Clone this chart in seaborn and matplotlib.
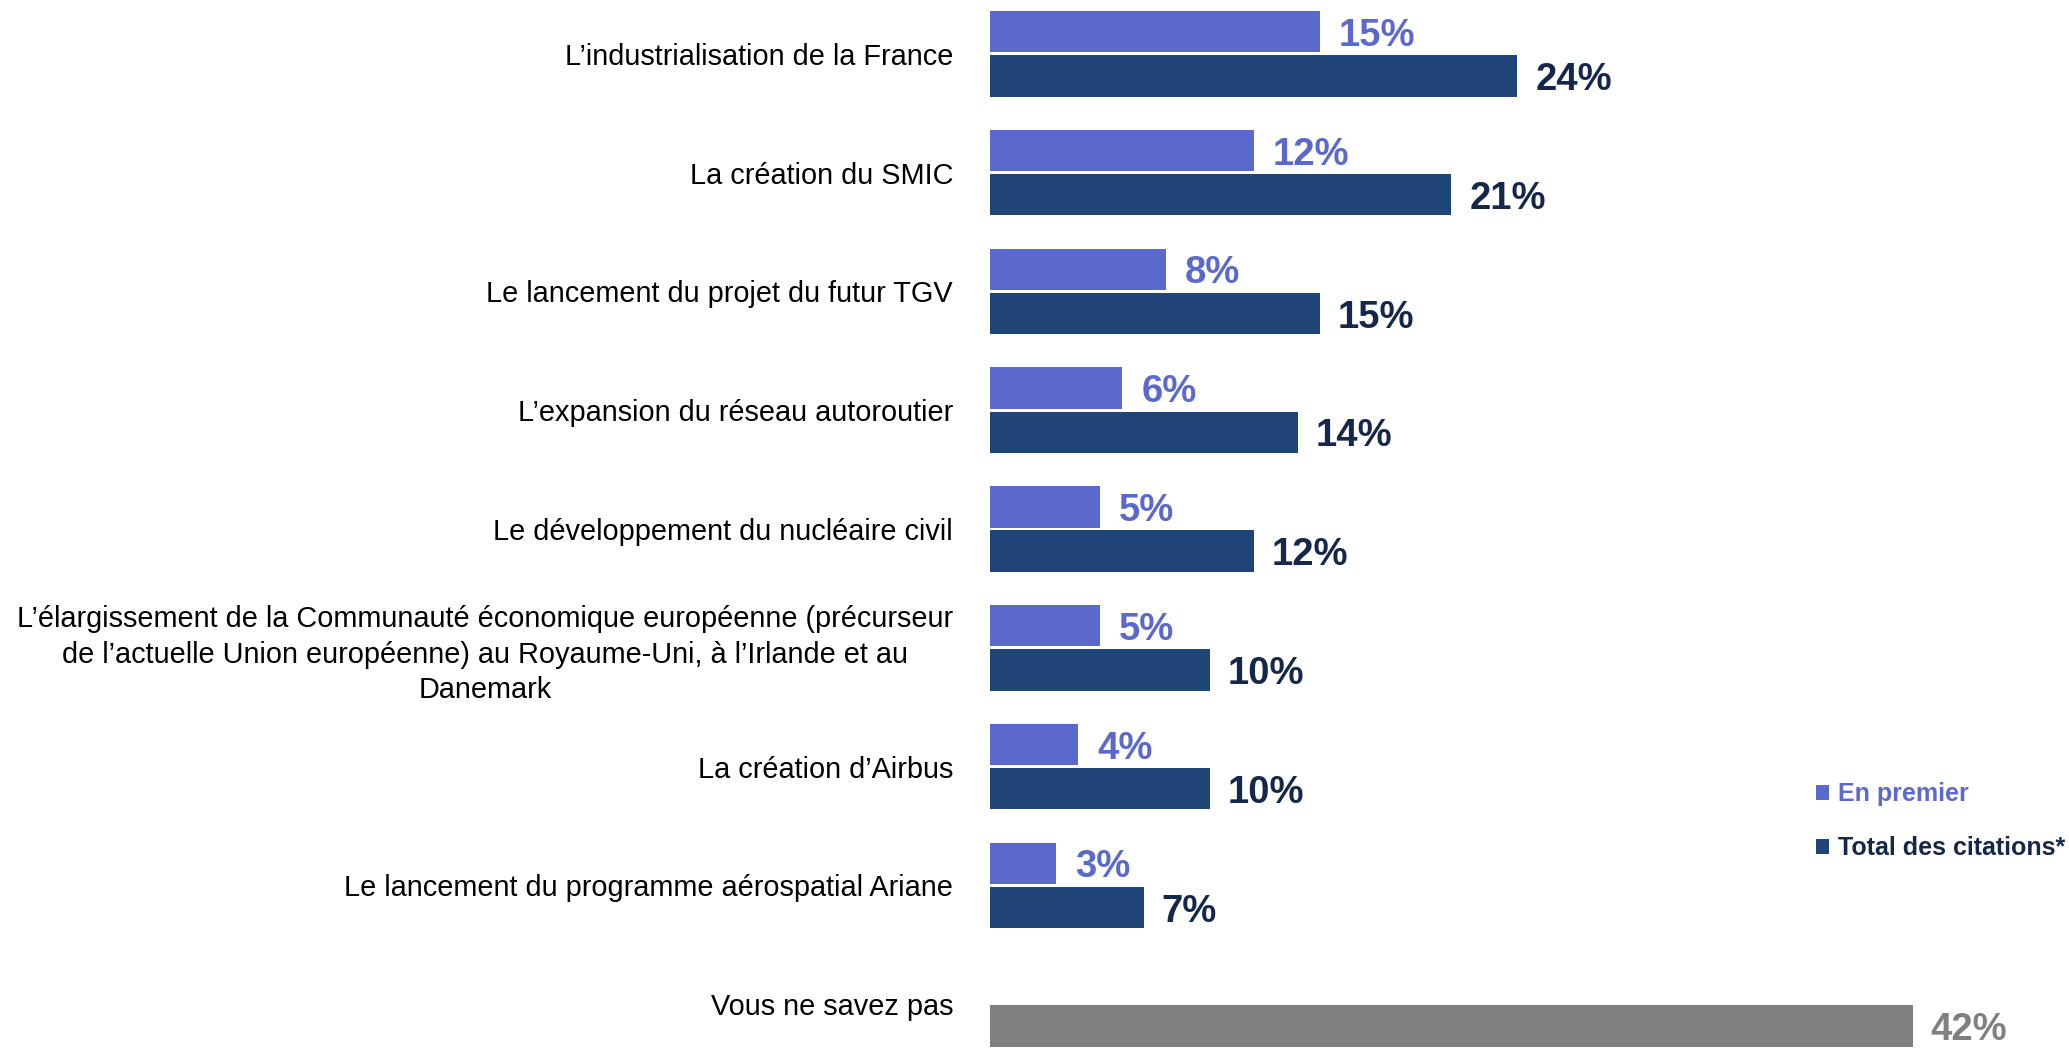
import matplotlib
matplotlib.use("Agg")
import matplotlib.pyplot as plt
from matplotlib.patches import Patch
import pandas as pd
import seaborn as sns

# Survey items, top to bottom
items = [
    "L’industrialisation de la France",
    "La création du SMIC",
    "Le lancement du projet du futur TGV",
    "L’expansion du réseau autoroutier",
    "Le développement du nucléaire civil",
    "L’élargissement de la Communauté économique européenne (précurseur\n"
    "de l’actuelle Union européenne) au Royaume-Uni, à l’Irlande et au\n"
    "Danemark",
    "La création d’Airbus",
    "Le lancement du programme aérospatial Ariane",
    "Vous ne savez pas",
]
series = ["En premier", "Total des citations*"]
en_premier = [15, 12, 8, 6, 5, 5, 4, 3, None]
total_citations = [24, 21, 15, 14, 12, 10, 10, 7, 42]

LIGHT = "#5C69CC"
DARK = "#1F4476"
NAVY_TEXT = "#16284A"
GRAY = "#808080"

rows = []
for item, first, tot in zip(items, en_premier, total_citations):
    if first is not None:
        rows.append({"item": item, "serie": series[0], "value": first})
    rows.append({"item": item, "serie": series[1], "value": tot})
df = pd.DataFrame(rows)

sns.set_theme(style="white")
plt.rcParams["font.family"] = ["Liberation Sans", "DejaVu Sans"]

fig = plt.figure(figsize=(20.69, 10.48), dpi=100)
ax = fig.add_axes([990 / 2069, 0, 1079 / 2069, 1])

sns.barplot(
    data=df, y="item", x="value", hue="serie",
    order=items, hue_order=series, palette=[LIGHT, DARK],
    orient="h", width=0.744, gap=0.06, errorbar=None,
    saturation=1, linewidth=0, legend=False, ax=ax,
)

ax.set_xlim(0, 49.11)
ax.set_ylim(8.369, -0.453)
ax.set_xlabel("")
ax.set_ylabel("")
ax.set_xticks([])
ax.set_yticks(range(len(items)), labels=items)
sns.despine(ax=ax, left=True, bottom=True)
ax.tick_params(axis="y", length=0, pad=26.6, labelsize=20.8, labelcolor="black")
for lbl in ax.get_yticklabels():
    if "\n" in lbl.get_text():
        lbl.set_multialignment("center")
        lbl.set_linespacing(1.35)

# Value labels
first_vals = [v for v in en_premier if v is not None]
light_texts = ax.bar_label(ax.containers[0], labels=[f"{v}%" for v in first_vals],
                           padding=14, color=LIGHT, fontsize=27.5, fontweight="bold")
dark_texts = ax.bar_label(ax.containers[1], labels=[f"{v}%" for v in total_citations],
                          padding=13, color=NAVY_TEXT, fontsize=27.5, fontweight="bold")
# nudge the figures down so the digits sit on the bar's centre line
for t in list(light_texts) + list(dark_texts):
    dx, dy = t.xyann
    t.xyann = (dx, dy - 3.0)

# "Vous ne savez pas" shown in neutral gray
ax.containers[1].patches[-1].set_facecolor(GRAY)
dark_texts[-1].set_color(GRAY)

handles = [Patch(facecolor=LIGHT, edgecolor="none"), Patch(facecolor=DARK, edgecolor="none")]
leg = fig.legend(
    handles, series, loc="center left", bbox_to_anchor=(0.8777, 0.2163),
    frameon=False, handlelength=0.53, handleheight=0.53, handletextpad=0.35,
    labelspacing=1.2, borderpad=0, borderaxespad=0,
    prop={"family": ["Liberation Sans", "DejaVu Sans"], "weight": "bold", "size": 18},
)
leg.get_texts()[0].set_color(LIGHT)
leg.get_texts()[1].set_color(NAVY_TEXT)

fig.savefig("out.png", dpi=100)
